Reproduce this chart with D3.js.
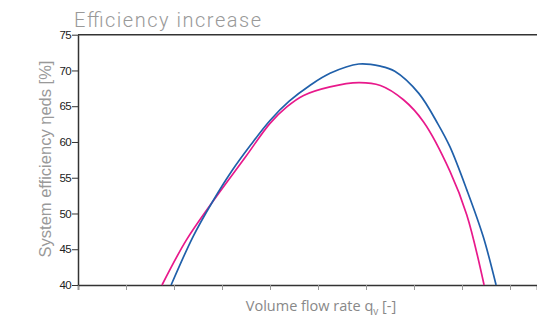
<!DOCTYPE html>
<html><head><meta charset="utf-8">
<script src="https://cdn.jsdelivr.net/npm/d3@7"></script>
<style>body{margin:0;background:#fff}svg{display:block}</style>
</head><body>
<script>
const yTicks = [40,45,50,55,60,65,70,75];
const xTicks = [0,1,2,3,4,5,6,7,8,9];
const blueX = [1.94,2.4,2.79,3.2,3.6,4.0,4.4,4.83,5.25,5.85,6.3,6.6,7.1,7.5,7.75,8.1,8.44,8.71];
const blueY = [40,46.8,51.5,55.9,59.6,63.0,65.7,67.9,69.6,70.9,70.6,69.9,66.8,62.5,59.3,53.3,46.8,40];
const pinkX = [1.75,2.25,2.79,3.5,4.0,4.35,4.7,5.25,5.85,6.3,6.78,7.2,7.75,8.1,8.46];
const pinkY = [40,46.2,51.5,58.0,62.6,64.9,66.5,67.7,68.3,67.9,65.9,62.8,55.9,49.8,40];

const W=537,H=319, L=78, R=537, T=34.7, B=285;
const svg=d3.select("body").append("svg").attr("width",W).attr("height",H);
const x=d3.scaleLinear().domain([0,(R-L)/48]).range([L,R]);
const y=d3.scaleLinear().domain([40,75]).range([B,T]);

const gx=svg.append("g").attr("transform",`translate(0,${B})`)
  .call(d3.axisBottom(x).tickValues(xTicks).tickSize(5).tickFormat(""));
gx.select(".domain").attr("stroke","#333").attr("stroke-width",1.5);
gx.selectAll(".tick line").attr("stroke","#999");

const gy=svg.append("g").attr("transform",`translate(${L},0)`)
  .call(d3.axisLeft(y).tickValues(yTicks).tickSize(6).tickPadding(1).tickSizeOuter(0));
gy.select(".domain").attr("stroke","#333").attr("stroke-width",1.5);
gy.selectAll(".tick line").attr("stroke","#333");
gy.selectAll(".tick text").attr("font-family","Liberation Sans, Arial, sans-serif")
  .attr("font-size",11.5).attr("fill","#222").attr("letter-spacing","-0.6");

svg.append("line").attr("x1",L).attr("x2",R).attr("y1",T).attr("y2",T)
  .attr("stroke","#333").attr("stroke-width",1.5);

const line=d3.line().curve(d3.curveCatmullRom.alpha(0.5));
const series=[{xs:pinkX,ys:pinkY,c:"#e8198b"},{xs:blueX,ys:blueY,c:"#2060aa"}];
series.forEach(s=>{
  svg.append("path").attr("d",line(s.xs.map((v,i)=>[x(v),y(s.ys[i])])))
    .attr("fill","none").attr("stroke",s.c).attr("stroke-width",1.7);
});

svg.append("text").attr("x",74).attr("y",27).text("Efficiency increase")
  .attr("font-family","Roboto, sans-serif").attr("font-weight",300)
  .attr("font-size",20).attr("fill","#999")
  .attr("textLength",187).attr("lengthAdjust","spacing");

svg.append("text").attr("transform","translate(51,159) rotate(-90)")
  .attr("text-anchor","middle").attr("font-family","Liberation Sans, Arial, sans-serif")
  .attr("font-size",16.5).attr("fill","#999").text("System efficiency ηeds [%]");

const xt=svg.append("text").attr("x",321).attr("y",311).attr("text-anchor","middle")
  .attr("font-family","Open Sans, sans-serif").attr("font-size",14.5).attr("fill","#888");
xt.append("tspan").text("Volume flow rate q");
xt.append("tspan").attr("font-size",10).attr("dy",4).text("v");
xt.append("tspan").attr("dy",-4).text(" [-]");
</script>
</body></html>
